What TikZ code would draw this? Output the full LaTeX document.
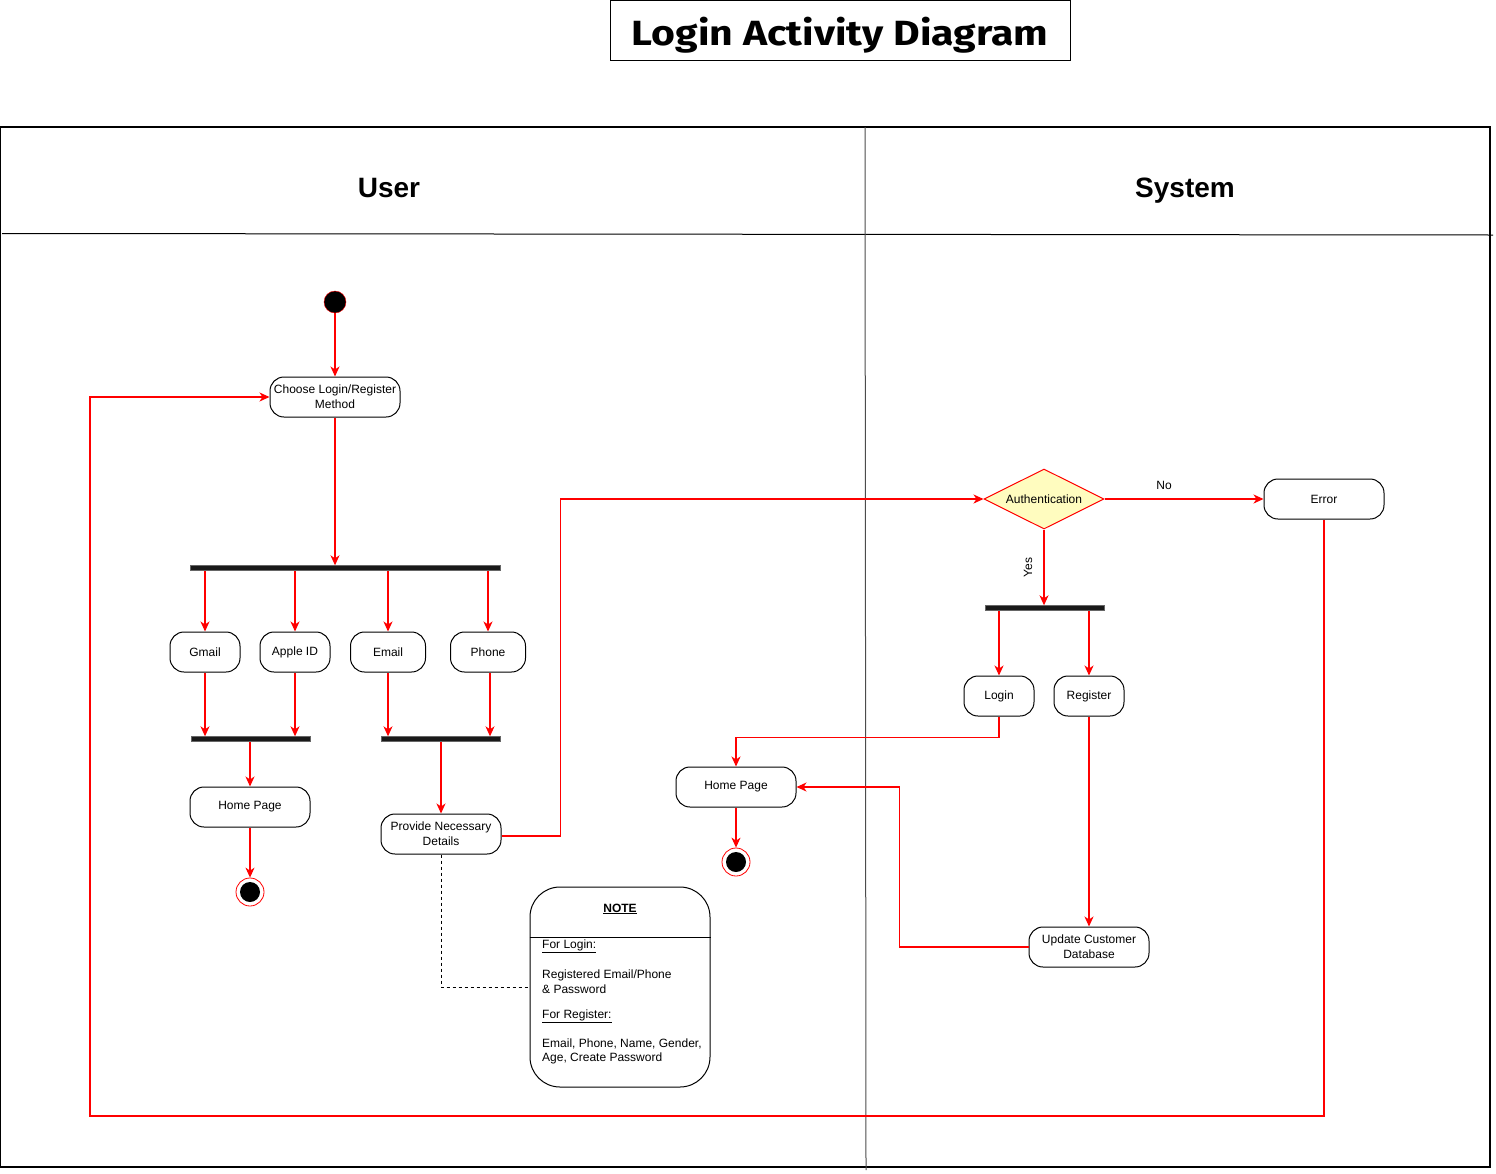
\documentclass[tikz,border=0pt]{standalone}
\usepackage{fontspec}
\setmainfont{Liberation Sans}
\newfontfamily\titlefont{Fira Sans}
\usepackage{tikz}
\usetikzlibrary{arrows.meta,shapes.geometric}

\tikzset{
  flow/.style={-{Stealth[length=10pt,width=9pt,inset=3pt]}, draw=red, line width=1.1pt},
  act/.style={draw, line width=1pt, rounded corners=14pt, minimum width=120pt, minimum height=40pt, align=center, inner sep=1pt, font=\fontsize{12}{15}\selectfont},
  bar/.style={fill=black!90, draw=black!60, inner sep=0pt, minimum height=5pt},
  endstate/.style={circle, draw=red, line width=0.8pt, fill=white, minimum size=28pt, inner sep=0pt,
    path picture={\fill[black] (path picture bounding box.center) circle (10pt);}},
  lane/.style={anchor=base, font=\bfseries\fontsize{28}{32}\selectfont},
}

\begin{document}
\begin{tikzpicture}[x=1pt, y=-1pt]
\useasboundingbox (0, 0) rectangle (1496, 1173);

\node[draw, line width=1pt, minimum width=460pt, minimum height=60pt] (title) at (840, 30) {\titlefont\bfseries\fontsize{35}{40}\selectfont\raisebox{-5pt}[\height][\depth]{\scalebox{1.17}[1]{Login Activity Diagram}}};

\draw[line width=1.2pt] (0.6, 127) rectangle (1490, 1167);
\draw[line width=1pt] (2, 233.5) -- (1493, 235);
\draw[line width=1pt, black!70] (865, 127) -- (866, 1170);
\node[lane] (user) at (389, 197) {User};
\node[lane] (system) at (1185, 197) {System};

\node[circle, draw=red, fill=black, minimum size=22pt, inner sep=0pt] (start) at (335, 302) {};
\node[act, minimum width=130pt] (choose) at (335, 397) {Choose Login/Register\\Method};
\node[bar, minimum width=310pt] (fork1) at (345, 568) {};

\node[act, minimum width=70pt] (gmail) at (205, 652) {Gmail};
\node[act, minimum width=70pt] (apple) at (295, 652) {Apple ID};
\node[act, minimum width=75pt] (email) at (388, 652) {Email};
\node[act, minimum width=75pt] (phone) at (488, 652) {Phone};

\node[bar, minimum width=119pt] (join1) at (250.5, 739) {};
\node[bar, minimum width=119pt] (join2) at (440.5, 739) {};

\node[act] (home1) at (250, 807) {Home Page};
\node[endstate] (end1) at (250, 892) {};
\node[act] (provide) at (441, 834) {Provide Necessary\\Details};

\node[draw, line width=1pt, rounded corners=30pt, minimum width=180pt, minimum height=200pt] (note) at (620, 987) {};
\draw[line width=1pt] (note.west |- 0, 937) -- (note.east |- 0, 937);
\node[font=\bfseries\fontsize{12}{15}\selectfont] (notehead) at (620, 909) {\underline{NOTE}};
\node[anchor=west, inner sep=0pt, font=\fontsize{12}{14.5}\selectfont, align=left] (forlogin) at (542, 946) {\underline{For Login:}};
\node[anchor=west, inner sep=0pt, font=\fontsize{12}{14.5}\selectfont, align=left] (logininfo) at (542, 981.5) {Registered Email/Phone\\\& Password};
\node[anchor=west, inner sep=0pt, font=\fontsize{12}{14.5}\selectfont, align=left] (forreg) at (542, 1016) {\underline{For Register:}};
\node[anchor=west, inner sep=0pt, font=\fontsize{12}{14.5}\selectfont, align=left] (reginfo) at (542, 1051.5) {Email, Phone, Name, Gender,\\Age, Create Password};

\node[diamond, draw=red, fill=yellow!25, line width=1pt, aspect=2, minimum width=120pt, minimum height=60pt, inner sep=0pt, font=\fontsize{12}{15}\selectfont] (auth) at (1044, 499) {Authentication};
\node[act] (error) at (1324, 499) {Error};
\node[bar, minimum width=119pt] (fork2) at (1044.5, 608) {};
\node[act, minimum width=70pt] (login) at (999, 696) {Login};
\node[act, minimum width=70pt] (register) at (1089, 696) {Register};
\node[act] (home2) at (736, 787) {Home Page};
\node[endstate] (end2) at (736, 862) {};
\node[act] (update) at (1089, 947) {Update Customer\\Database};

\draw[flow] (start) -- (choose);
\draw[flow] (choose) -- (choose.south |- fork1.north);
\draw[flow] (gmail.north |- fork1.south) -- (gmail);
\draw[flow] (apple.north |- fork1.south) -- (apple);
\draw[flow] (email.north |- fork1.south) -- (email);
\draw[flow] (phone.north |- fork1.south) -- (phone);
\draw[flow] (gmail) -- (gmail.south |- join1.north);
\draw[flow] (apple) -- (apple.south |- join1.north);
\draw[flow] (email) -- (email.south |- join2.north);
\draw[flow] ([xshift=2pt]phone.south) -- ([xshift=2pt]phone.south |- join2.north);
\draw[flow] (home1.north |- join1.south) -- (home1);
\draw[flow] (home1) -- (end1);
\draw[flow] (provide.north |- join2.south) -- (provide);
\draw[dashed, line width=0.8pt] (provide.south) |- (note.west);

\draw[flow] ([yshift=-2pt]provide.east) -- ++(59, 0) |- (auth.west);
\draw[flow] (auth.east) -- node[pos=0.375, above=6pt, font=\fontsize{12}{15}\selectfont] (no) {No} (error.west);
\draw[flow] (auth.south) -- node[midway, xshift=-16pt, rotate=90, font=\fontsize{12}{15}\selectfont] (yes) {Yes} (auth.south |- fork2.north);
\draw[flow] (login.north |- fork2.south) -- (login);
\draw[flow] (register.north |- fork2.south) -- (register);
\draw[flow] (login.south) -- ++(0, 21) -| (home2.north);
\draw[flow] (home2) -- (end2);
\draw[flow] (register) -- (update);
\draw[flow] (update.west) -- ++(-129, 0) |- (home2.east);

\coordinate (loopbr) at (1324, 1116);
\coordinate (loopbl) at (90, 1116);
\draw[flow] (error.south) -- (loopbr) -- (loopbl) |- (choose.west);
\end{tikzpicture}
\end{document}
